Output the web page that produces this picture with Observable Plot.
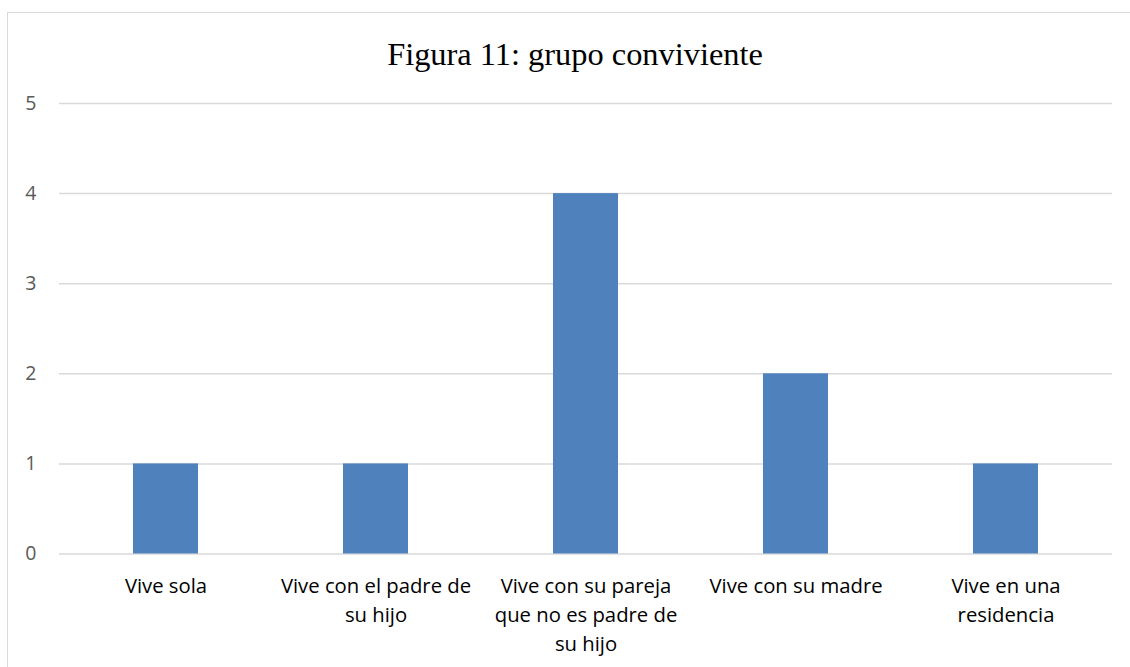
<!DOCTYPE html>
<html>
<head>
<meta charset="utf-8">
<script src="https://cdn.jsdelivr.net/npm/d3@7"></script>
<script src="https://cdn.jsdelivr.net/npm/@observablehq/plot@0.6"></script>
<style>
  html, body { margin: 0; padding: 0; background: #fff; overflow: hidden; }
  #frame {
    position: absolute; left: 7px; top: 12px; width: 1130px; height: 700px;
    border: 1.5px solid #d9d9d9; box-sizing: border-box;
  }
  #title {
    position: absolute; left: 0; top: 33px; width: 1150px; text-align: center;
    font-family: "Liberation Serif", "Times New Roman", serif; font-size: 32.4px; color: #000;
    line-height: 42px;
  }
  #chart { position: absolute; left: 0; top: 80px; }
</style>
</head>
<body>
<div id="frame"></div>
<div id="title">Figura 11: grupo conviviente</div>
<div id="chart"></div>
<script>
// Household group categories and counts
const categories = [
  "Vive sola",
  "Vive con el padre de su hijo",
  "Vive con su pareja que no es padre de su hijo",
  "Vive con su madre",
  "Vive en una residencia"
];
const counts = [1, 1, 4, 2, 1];
const categoryLabels = [
  "Vive sola",
  "Vive con el padre de\nsu hijo",
  "Vive con su pareja\nque no es padre de\nsu hijo",
  "Vive con su madre",
  "Vive en una\nresidencia"
];
const yTicks = [0, 1, 2, 3, 4, 5];

const rows = categories.map((c, i) => ({category: c, count: counts[i], label: categoryLabels[i]}));

const chart = Plot.plot({
  width: 1130,
  height: 587,
  marginLeft: 59,
  marginRight: 18,
  marginTop: 23,
  marginBottom: 113.5,
  style: {fontFamily: "'Open Sans', sans-serif", background: "transparent"},
  x: {domain: categories, paddingInner: 0.69, paddingOuter: 0.345, axis: null},
  y: {domain: [0, 5], ticks: yTicks, axis: null},
  marks: [
    Plot.gridY(yTicks, {stroke: "#d9d9d9", strokeOpacity: 1, strokeWidth: 1.5}),
    Plot.barY(rows, {x: "category", y: "count", fill: "#4f81bd"}),
    Plot.axisY(yTicks, {
      label: null, tickSize: 0, tickPadding: 23, fontSize: 19.5, fill: "#595959", tickFormat: d => d
    }),
    Plot.text(rows, {
      x: "category", frameAnchor: "bottom", text: "label",
      lineAnchor: "top", dy: 18, lineHeight: 1.44, fontSize: 20.3, fill: "#000"
    })
  ]
});
document.getElementById("chart").appendChild(chart);
</script>
</body>
</html>
